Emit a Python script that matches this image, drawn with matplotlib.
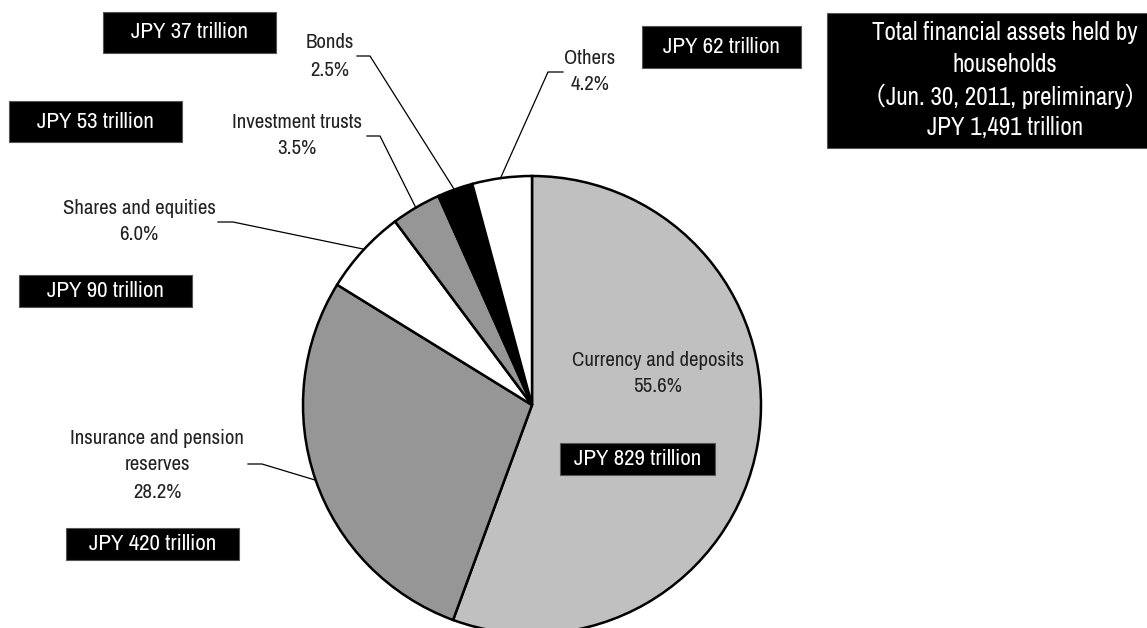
import matplotlib
matplotlib.use("Agg")
import matplotlib.pyplot as plt
from matplotlib import font_manager
from matplotlib.patches import Rectangle

# pick a narrow sans face if one is installed
installed = {f.name for f in font_manager.fontManager.ttflist}
narrow = next((n for n in ['Liberation Sans Narrow', 'Archivo Narrow', 'PT Sans Narrow', 'Roboto Condensed']
               if n in installed), 'DejaVu Sans')
plt.rcParams['font.family'] = [narrow, 'DejaVu Sans']

# Household financial assets, Jun. 30, 2011 (preliminary)
categories = ['Currency and deposits', 'Insurance and pension\nreserves', 'Shares and equities',
              'Investment trusts', 'Bonds', 'Others']
shares = [55.6, 28.2, 6.0, 3.5, 2.5, 4.2]
amounts = [829, 420, 90, 53, 37, 62]
total_amount = '1,491'
colors = ['#c0c0c0', '#969696', '#ffffff', '#969696', '#000000', '#ffffff']

W, H = 1147, 628


def fy(y):
    # screen-style y (top = 0) to axes y
    return H - y


fig = plt.figure(figsize=(W / 100, H / 100), dpi=100)
ax = fig.add_axes([0, 0, 1, 1])

ax.pie(shares, colors=colors, startangle=90, counterclock=False,
       center=(532, fy(405)), radius=229,
       wedgeprops=dict(edgecolor='black', linewidth=1.8))
ax.set_xlim(0, W)
ax.set_ylim(0, H)
ax.set_aspect('equal')
ax.axis('off')

txt = '#222222'
fs = 15

# category labels: (x, y of first line)
label_pos = [(658, 360), (157, 438), (139, 208), (297, 122), (330, 43), (590, 58)]
line_h = 27
for name, pct, (x, y) in zip(categories, shares, label_pos):
    lines = name.split('\n') + [f'{pct:.1f}%']
    for i, s in enumerate(lines):
        ax.text(x, fy(y + i * line_h), s, ha='center', va='center', fontsize=fs, color=txt)

# leader lines
leaders = [
    None,
    [(248, 464), (262, 464), (315, 480)],
    [(218, 222), (233, 222), (363, 249)],
    [(367, 136), (380, 136), (416, 208)],
    [(357, 56), (370, 56), (454, 189)],
    [(563, 72), (548, 72), (501, 177)],
]
for pts in leaders:
    if pts is None:
        continue
    xs = [p[0] for p in pts]
    ys = [fy(p[1]) for p in pts]
    ax.plot(xs, ys, color='black', lw=0.9)

# amount boxes: (left, top, right, bottom)
boxes = [(560, 443, 715, 475), (66, 528, 239, 560), (19, 275, 192, 307),
         (9, 101, 182, 142), (103, 12, 276, 53), (642, 26, 801, 68)]
for amt, (l, t, r, b) in zip(amounts, boxes):
    ax.add_patch(Rectangle((l, fy(b)), r - l, b - t, facecolor='black',
                           edgecolor='#555555', lw=0.8))
    ax.text((l + r) / 2, fy((t + b) / 2), f'JPY {amt} trillion', ha='center', va='center',
            fontsize=16.5, color='white')

# total box
ax.add_patch(Rectangle((827, fy(148)), 340, 135, facecolor='black', edgecolor='#555555', lw=0.8,
                       clip_on=False))
total_lines = ['Total financial assets held by', 'households',
               '\uff08Jun. 30, 2011, preliminary\uff09', f'JPY {total_amount} trillion']
for i, s in enumerate(total_lines):
    ax.text(1005, fy(32 + i * 32), s, ha='center', va='center', fontsize=18, color='white',
            family=[narrow, 'Noto Sans CJK JP', 'DejaVu Sans'])

fig.savefig('out.png', dpi=100)
